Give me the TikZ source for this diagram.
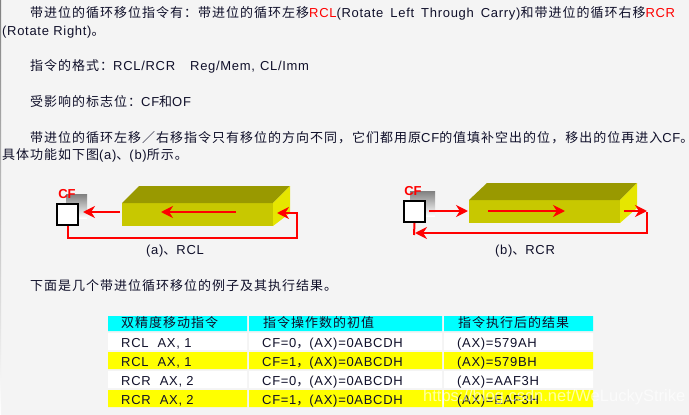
\documentclass[tikz,border=0pt]{standalone}
\usepackage{fontspec}
\usetikzlibrary{arrows.meta}
\setmainfont{Liberation Sans}
\newfontfamily\zhf[LetterSpace=7.7]{Noto Sans CJK SC}
\newfontfamily\enf[LetterSpace=5.4]{Liberation Sans}
\newcommand{\zh}[1]{{\zhf #1}}
\newcommand{\rd}[1]{{\color{red}#1}}
\definecolor{paper}{HTML}{F4F4F4}
\definecolor{ink}{HTML}{10102A}
\definecolor{barfront}{HTML}{C8C800}
\definecolor{bartop}{HTML}{999900}
\definecolor{barside}{HTML}{E6E600}
\definecolor{headfill}{RGB}{0,255,255}
\definecolor{rowfill}{RGB}{255,255,0}
\definecolor{shade}{HTML}{808080}
\tikzset{
  textline/.style={anchor=base west,inner sep=0pt,text=ink,font=\enf\fontsize{13}{15}\selectfont},
  cell/.style={anchor=base west,inner sep=0pt,text=ink,font=\enf\fontsize{13}{15}\selectfont},
  captext/.style={anchor=center,inner sep=0pt,text=ink,font=\enf\fontsize{13}{15}\selectfont},
  cftext/.style={anchor=center,inner sep=0pt,text=red,font=\bfseries\fontsize{13}{15}\selectfont},
  cfbox/.style={draw=black,line width=2pt,fill=white,minimum width=21pt,minimum height=21pt,inner sep=0pt},
  wire/.style={draw=red,line width=2pt},
  arrowwire/.style={wire,-{Stealth[length=12pt,width=12pt]}},
}
\begin{document}
\begin{tikzpicture}[x=1pt,y=-1pt]
\useasboundingbox (0,0) rectangle (689,415);
\fill[paper] (0,0) rectangle (689,415);
\fill[shade] (0,0) rectangle (1.2,415);

\node[textline] (l1) at (30,17) {\zh{带进位的循环移位指令有：带进位的循环左移}\rd{RCL}(Rotate\hspace{7pt}Left\hspace{7pt}Through\hspace{7pt}Carry)\zh{和带进位的循环右移}\rd{RCR}};
\node[textline] (l2) at (2,35) {(Rotate Right)\zh{。}};
\node[textline] (l3) at (30,70) {\zh{指令的格式：}RCL/RCR\hspace{15pt}Reg/Mem,\hspace{5pt}CL/Imm};
\node[textline] (l4) at (30,106) {\zh{受影响的标志位：}CF\zh{和}OF};
\node[textline] (l5) at (30,142) {\zh{带进位的循环左移／右移指令只有移位的方向不同，它们都用原}CF\zh{的值填补空出的位，移出的位再进入}CF\makebox[3pt][l]{\zh{。}}};
\node[textline] (l6) at (2,159) {\zh{具体功能如下图}(a)\zh{、}(b)\zh{所示。}};
\node[textline] (l7) at (30,290) {\zh{下面是几个带进位循环移位的例子及其执行结果。}};

% (a) RCL
\fill[shade] (66,194) rectangle (87,218);
\node[cfbox,anchor=north west] (cfa) at (56,203) {};
\node[cftext] (cfla) at (67,194) {CF};
\fill[barfront] (122,203) rectangle (273,226);
\fill[bartop] (122,203) -- (139,186) -- (290,186) -- (273,203) -- cycle;
\fill[barside] (273,203) -- (290,186) -- (290,213) -- (273,226) -- cycle;
\coordinate (aout) at (120,212);
\coordinate (atip) at (83,212);
\coordinate (ain1) at (236,212);
\coordinate (ain2) at (161,212);
\coordinate (ar) at (277,213);
\draw[arrowwire] (aout) -- (atip);
\draw[arrowwire] (ain1) -- (ain2);
\draw[arrowwire] (cfa.south) |- (297,238) |- (ar);
\node[captext] (capa) at (175,251) {(a)\zh{、}RCL};

% (b) RCR
\fill[shade] (410,191) rectangle (435,216);
\node[cfbox,anchor=north west] (cfb) at (403,200) {};
\node[cftext] (cflb) at (413,191) {CF};
\fill[barfront] (469,200) rectangle (620,223);
\fill[bartop] (469,200) -- (487,183) -- (637,183) -- (620,200) -- cycle;
\fill[barside] (620,200) -- (637,183) -- (637,208) -- (620,223) -- cycle;
\coordinate (bout) at (429,211);
\coordinate (btip) at (468,211);
\coordinate (bin1) at (488,211);
\coordinate (bin2) at (565,211);
\coordinate (bo1) at (624,211);
\coordinate (bo2) at (647,211);
\coordinate (bl) at (415,233);
\draw[arrowwire] (bout) -- (btip);
\draw[arrowwire] (bin1) -- (bin2);
\draw[arrowwire] (bo1) -- (bo2);
\draw[arrowwire] (647,212) |- (bl);
\draw[wire] (cfb.south) -- (414,235);
\node[captext] (capb) at (525,251) {(b)\zh{、}RCR};

% table
\fill[headfill] (108,316) rectangle (247,331) (249,316) rectangle (442,331) (444,316) rectangle (593,331);
\fill[white] (108,333) rectangle (247,350) (249,333) rectangle (442,350) (444,333) rectangle (593,350);
\fill[rowfill] (108,352) rectangle (247,369) (249,352) rectangle (442,369) (444,352) rectangle (593,369);
\fill[white] (108,371) rectangle (247,388) (249,371) rectangle (442,388) (444,371) rectangle (593,388);
\fill[rowfill] (108,390) rectangle (247,407) (249,390) rectangle (442,407) (444,390) rectangle (593,407);

\node[cell] (h1) at (121,327) {\zh{双精度移动指令}};
\node[cell] (h2) at (263,327) {\zh{指令操作数的初值}};
\node[cell] (h3) at (458,327) {\zh{指令执行后的结果}};
\node[cell] (a1) at (121,347) {RCL\hspace{9pt}AX, 1};
\node[cell] (a2) at (262,347) {CF=0\zh{，}(AX)=0ABCDH};
\node[cell] (a3) at (457,347) {(AX)=579AH};
\node[cell] (b1) at (121,366) {RCL\hspace{9pt}AX, 1};
\node[cell] (b2) at (262,366) {CF=1\zh{，}(AX)=0ABCDH};
\node[cell] (b3) at (457,366) {(AX)=579BH};
\node[cell] (c1) at (121,385) {RCR\hspace{9pt}AX, 2};
\node[cell] (c2) at (262,385) {CF=0\zh{，}(AX)=0ABCDH};
\node[cell] (c3) at (457,385) {(AX)=AAF3H};
\node[cell] (d1) at (121,404) {RCR\hspace{9pt}AX, 2};
\node[cell] (d2) at (262,404) {CF=1\zh{，}(AX)=0ABCDH};
\node[cell] (d3) at (457,404) {(AX)=EAF3H};

\node[anchor=base west,inner sep=0pt,text=white,opacity=.65,font=\fontsize{16.5}{19}\selectfont] (wm) at (423,401) {https://blog.csdn.net/WeLuckyStrike};
\end{tikzpicture}
\end{document}
